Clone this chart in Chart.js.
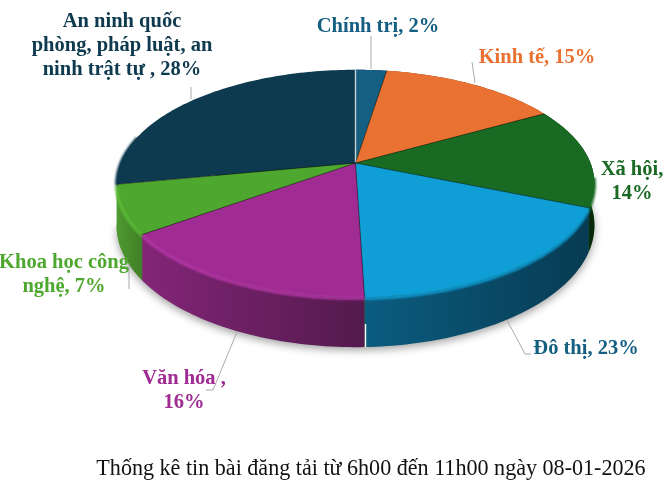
<!DOCTYPE html>
<html>
<head>
<meta charset="utf-8">
<title>Thống kê tin bài</title>
<script src="https://cdn.jsdelivr.net/npm/chart.js@4"></script>
<style>
    html, body { margin: 0; padding: 0; background: #fff; }
    canvas { display: block; }
</style>
</head>
<body>
<canvas id="pieChart" width="670" height="496"></canvas>
<script>
// DATA
const categories = ["Chính trị", "Kinh tế", "Xã hội", "Đô thị", "Văn hóa", "Khoa học công nghệ", "An ninh quốc phòng, pháp luật, an ninh trật tự"];
// slice sizes measured from the drawn angles (the printed labels add up to 105%,
// the Đô thị slice is drawn at about 18% although its label says 23%)
const sliceShares = [2.5, 14.4, 14.3, 18.3, 15.6, 6.9, 28];
const printedPercents = [2, 15, 14, 23, 16, 7, 28];
const chartCaption = "Thống kê tin bài đăng tải từ 6h00 đến 11h00 ngày 08-01-2026";

// COLORS
const faceColors = ["#156082", "#E97132", "#196B24", "#0F9ED5", "#A02B93", "#4EA72E", "#0D3A4E"];
const wallLeft = ["#0d3a4e", "#8a431e", "#124d1a", "#0b5c80", "#832578", "#4f9a30", "#0a2c3b"];
const wallRight = ["#0d3a4e", "#8a431e", "#082a0b", "#073b52", "#531a4c", "#3f7f26", "#0a2c3b"];
const bevelColors = ["#156082", "#E97132", "#196B24", "#0F9ED5", "#B636A8", "#5ABB36", "#0D3A4E"];

// LABEL LAYOUT: [text lines, center x, first baseline y]
const labelLayout = [
    [["Chính trị, " + printedPercents[0] + "%"], 378, 32],
    [["Kinh tế, " + printedPercents[1] + "%"], 537, 63],
    [["Xã hội,", printedPercents[2] + "%"], 632, 175],
    [["Đô thị, " + printedPercents[3] + "%"], 586, 354],
    [["Văn hóa ,", printedPercents[4] + "%"], 184, 384],
    [["Khoa học công", "nghệ, " + printedPercents[5] + "%"], 64, 268],
    [["An ninh quốc", "phòng, pháp luật, an", "ninh trật tự , " + printedPercents[6] + "%"], 122, 27]
];
const leaderLines = [
    [[371, 36], [371, 69]],
    [[472, 62], [475, 83]],
    [[129, 265], [129, 289]],
    [[237, 332], [213, 390], [206, 390]],
    [[507, 320], [525, 354], [531, 354]],
    [[191, 87], [191, 99]]
];

// PIE GEOMETRY (perspective seen from the front)
const PIE = { cx: 355.5, cy: 163, a: 235, b: 110, k: 0.18, depth: 41 };

function project(angle, drop) {
    // angle comes from the Chart.js arc, which starts at -PI/2 (top)
    const t = angle + Math.PI / 2;
    const x = Math.sin(t);
    const y = -Math.cos(t);
    const w = 1 - PIE.k * y;
    return [PIE.cx + PIE.a * x / w, PIE.cy + PIE.b * y / w + (drop || 0) / w];
}

function traceEdge(ctx, start, end, drop, moveFirst) {
    const steps = Math.max(2, Math.ceil(Math.abs(end - start) / 0.02));
    for (let i = 0; i <= steps; i++) {
        const p = project(start + (end - start) * i / steps, drop);
        if (i === 0 && moveFirst) ctx.moveTo(p[0], p[1]);
        else ctx.lineTo(p[0], p[1]);
    }
}

const pie3dPlugin = {
    id: "pie3d",
    beforeDatasetDraw(chart) {
        const ctx = chart.ctx;
        const arcs = chart.getDatasetMeta(0).data;
        // the back slice (An ninh) has no visible wall
        const walled = arcs.slice(0, arcs.length - 1);
        const first = walled[0].startAngle;
        const last = walled[walled.length - 1].endAngle;

        // soft shadow under the pie
        ctx.save();
        ctx.shadowColor = "rgba(0,0,0,0.38)";
        ctx.shadowBlur = 9;
        ctx.shadowOffsetY = 4;
        ctx.fillStyle = "#3f7f26";
        ctx.beginPath();
        traceEdge(ctx, first, last, PIE.depth - 1, true);
        ctx.closePath();
        ctx.fill();
        ctx.restore();

        // side walls
        walled.forEach((arc, i) => {
            const a = project(arc.startAngle);
            const b = project(arc.endAngle);
            const minX = Math.min(a[0], b[0]);
            const maxX = Math.max(a[0], b[0]);
            const grad = ctx.createLinearGradient(minX, 0, maxX, 0);
            grad.addColorStop(0, wallLeft[i]);
            grad.addColorStop(1, wallRight[i]);
            ctx.fillStyle = grad;
            ctx.beginPath();
            traceEdge(ctx, arc.startAngle, arc.endAngle, 0, true);
            traceEdge(ctx, arc.endAngle, arc.startAngle, PIE.depth, false);
            ctx.closePath();
            ctx.fill();
        });

        // white gap on the wall between Đô thị and Văn hóa
        const gapTop = project(arcs[3].endAngle, 22);
        const gapBottom = project(arcs[3].endAngle, PIE.depth);
        ctx.strokeStyle = "#fff";
        ctx.lineWidth = 1.4;
        ctx.beginPath();
        ctx.moveTo(gapTop[0] + 1, gapTop[1]);
        ctx.lineTo(gapBottom[0] + 1, gapBottom[1]);
        ctx.stroke();

        // top faces
        arcs.forEach((arc, i) => {
            ctx.fillStyle = faceColors[i];
            ctx.beginPath();
            ctx.moveTo(PIE.cx, PIE.cy);
            traceEdge(ctx, arc.startAngle, arc.endAngle, 0, false);
            ctx.closePath();
            ctx.fill();
        });

        // bevel along the front edge
        arcs.forEach((arc, i) => {
            const from = Math.max(arc.startAngle, 0.12);
            const to = Math.min(arc.endAngle, Math.PI + 0.25);
            if (to <= from) return;
            ctx.save();
            ctx.filter = "blur(1.2px)";
            ctx.strokeStyle = bevelColors[i];
            ctx.lineWidth = 3;
            ctx.beginPath();
            traceEdge(ctx, from, to, 1, true);
            ctx.stroke();
            ctx.restore();
        });

        // seams between the slices
        arcs.forEach((arc, i) => {
            const p = project(arc.startAngle);
            ctx.strokeStyle = i === 0 ? "rgba(255,255,255,0.75)" : "rgba(0,0,0,0.45)";
            ctx.lineWidth = i === 0 ? 1.4 : 1;
            ctx.beginPath();
            ctx.moveTo(PIE.cx, PIE.cy);
            ctx.lineTo(p[0], p[1]);
            ctx.stroke();
        });

        return false;
    },
    afterDatasetsDraw(chart) {
        const ctx = chart.ctx;

        // leader lines
        ctx.strokeStyle = "#a9a9a9";
        ctx.lineWidth = 1;
        leaderLines.forEach(line => {
            ctx.beginPath();
            line.forEach((p, i) => {
                if (i === 0) ctx.moveTo(p[0], p[1]);
                else ctx.lineTo(p[0], p[1]);
            });
            ctx.stroke();
        });

        // labels
        ctx.textAlign = "center";
        ctx.textBaseline = "alphabetic";
        ctx.font = "bold 20.5px 'Liberation Serif'";
        labelLayout.forEach((label, i) => {
            ctx.fillStyle = faceColors[i] === "#0F9ED5" ? "#156082" : faceColors[i];
            label[0].forEach((line, n) => {
                ctx.fillText(line, label[1], label[2] + n * 23.8);
            });
        });

        // caption
        ctx.font = "22.1px 'Liberation Serif'";
        ctx.fillStyle = "#111";
        ctx.fillText(chartCaption, 371, 475);
    }
};

new Chart(document.getElementById("pieChart"), {
    type: "pie",
    data: {
        labels: categories,
        datasets: [{
            data: sliceShares,
            backgroundColor: faceColors
        }]
    },
    options: {
        responsive: false,
        animation: false,
        plugins: {
            legend: { display: false },
            tooltip: { enabled: false }
        }
    },
    plugins: [pie3dPlugin]
});
</script>
</body>
</html>
